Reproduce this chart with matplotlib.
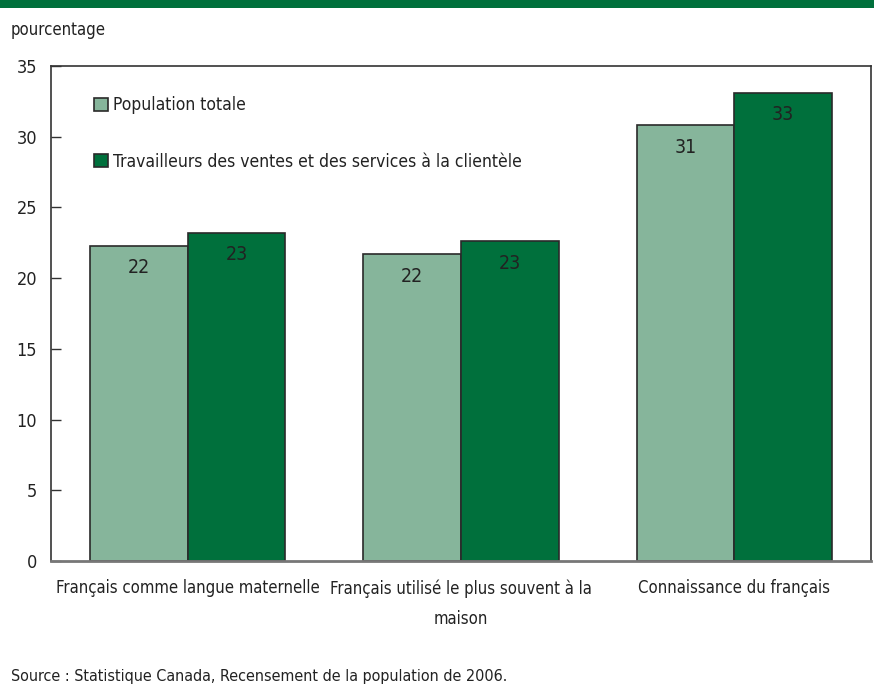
import matplotlib
matplotlib.use("Agg")
import matplotlib.pyplot as plt
import numpy as np
from matplotlib.patches import Rectangle

plt.rcParams['font.family'] = ['DejaVu Sans']
plt.rcParams['font.stretch'] = 'condensed'

categories = ["Français comme langue maternelle",
              "Français utilisé le plus souvent à la\nmaison",
              "Connaissance du français"]
series_names = ["Population totale",
                "Travailleurs des ventes et des services à la clientèle"]
population_totale = [22.3, 21.7, 30.8]
travailleurs = [23.2, 22.6, 33.1]
yticks = [0, 5, 10, 15, 20, 25, 30, 35]

light = "#86b59b"
dark = "#00703c"
edge = "#2a2a2a"
text_col = "#222222"

fig = plt.figure(figsize=(8.74, 7.0), dpi=100)
ax = fig.add_axes([51 / 874, 1 - 561 / 700, 820 / 874, 495 / 700])

# green band across the top
fig.patches.append(Rectangle((0, 1 - 8 / 700), 1, 8 / 700, transform=fig.transFigure,
                             facecolor="#00703c", edgecolor="none"))

x = np.arange(len(categories))
w = 0.357
b1 = ax.bar(x - w / 2, population_totale, w, color=light, edgecolor=edge, linewidth=1.2,
            label=series_names[0])
b2 = ax.bar(x + w / 2, travailleurs, w, color=dark, edgecolor=edge, linewidth=1.2,
            label=series_names[1])

for bars, vals in ((b1, population_totale), (b2, travailleurs)):
    for r, v in zip(bars, vals):
        ax.annotate(f"{v:.0f}", (r.get_x() + r.get_width() / 2, v),
                    xytext=(0, -9), textcoords="offset points",
                    ha="center", va="top", fontsize=14, color=text_col)

ax.set_xlim(-0.5, 2.5)
ax.set_ylim(0, 35)
ax.set_yticks(yticks)
ax.set_yticklabels([str(t) for t in yticks], fontsize=13, color=text_col)
ax.tick_params(axis="y", direction="in", length=7, width=1, pad=10, color="#333333")
ax.set_xticks(x)
ax.set_xticklabels(categories, fontsize=12, linespacing=1.9, color=text_col)
ax.tick_params(axis="x", length=0, pad=13)

for s in ("top", "right", "left"):
    ax.spines[s].set_color("#333333")
    ax.spines[s].set_linewidth(1.2)
ax.spines["bottom"].set_color("#777777")
ax.spines["bottom"].set_linewidth(2.0)

leg = ax.legend(loc="upper left", bbox_to_anchor=(0.033, 0.970), frameon=False,
                fontsize=12.5, handlelength=0.82, handleheight=0.82, handletextpad=0.3,
                labelspacing=2.2)
for t in leg.get_texts():
    t.set_color(text_col)

fig.text(11 / 874, 1 - 30 / 700, "pourcentage", fontsize=12, va="center", ha="left",
         color=text_col)
fig.text(11 / 874, 1 - 676 / 700, "Source : Statistique Canada, Recensement de la population de 2006.",
         fontsize=11.5, va="center", ha="left", color=text_col)

fig.savefig("out.png", dpi=100)
